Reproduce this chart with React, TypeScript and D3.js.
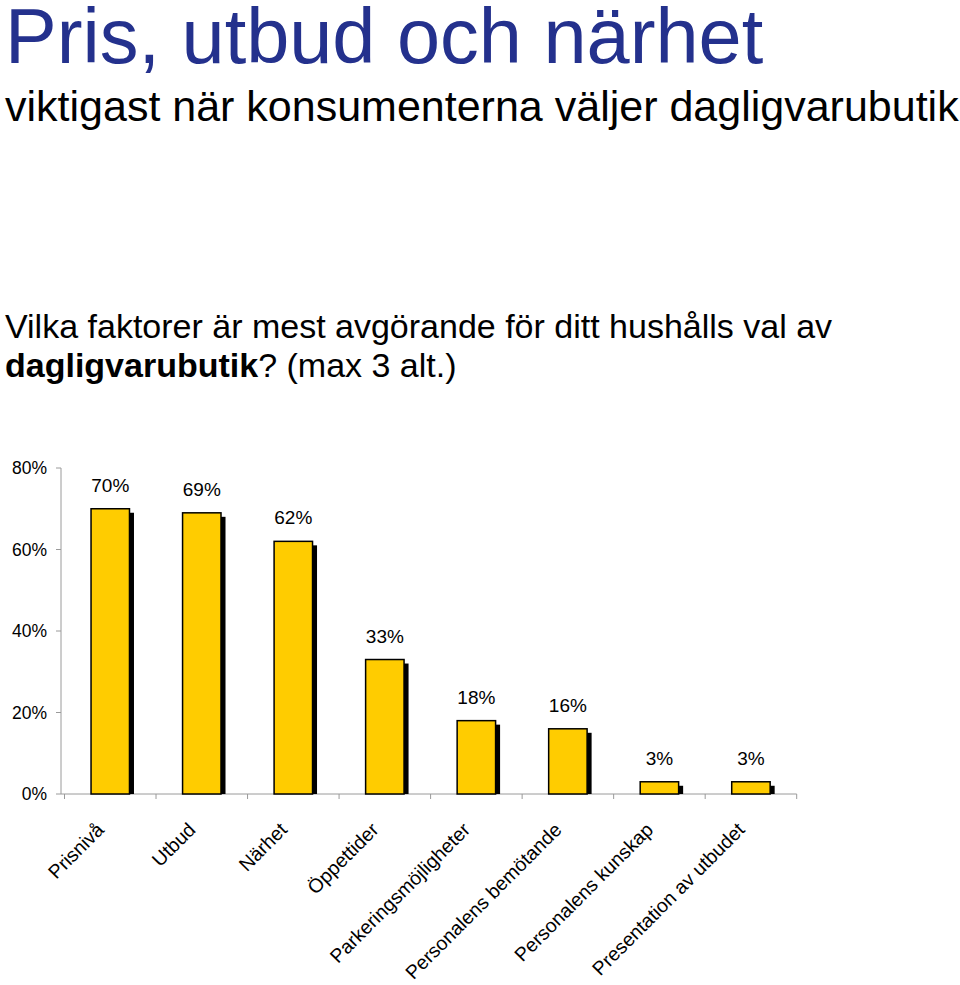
import React from "react";
import * as d3 from "d3";

const categories = [
  "Prisnivå",
  "Utbud",
  "Närhet",
  "Öppettider",
  "Parkeringsmöjligheter",
  "Personalens bemötande",
  "Personalens kunskap",
  "Presentation av utbudet",
];
const values = [70, 69, 62, 33, 18, 16, 3, 3];
const yTicks = [0, 20, 40, 60, 80];

const FONT = "'Liberation Sans', Arial, Helvetica, sans-serif";

export default function App() {
  const W = 960;
  const H = 985;
  const x = d3.scaleBand<string>().domain(categories).range([64.5, 796.7]).padding(0);
  const y = d3.scaleLinear().domain([0, 80]).range([794, 468]);
  const barW = x.step() * 0.42;
  const axisColor = "#9a9a9a";
  const boundaries = d3.range(categories.length + 1).map((i) => x.range()[0] + i * x.step());

  return (
    <svg
      width={W}
      height={H}
      style={{ position: "absolute", left: 0, top: 0, display: "block", background: "#fff" }}
      fontFamily={FONT}
    >
      <text x={5} y={63} fontSize={77.5} fill="#24318d">
        Pris, utbud och närhet
      </text>
      <text x={5} y={121} fontSize={43} fill="#000">
        viktigast när konsumenterna väljer dagligvarubutik
      </text>
      <text x={5} y={338} fontSize={34} fill="#000">
        Vilka faktorer är mest avgörande för ditt hushålls val av
      </text>
      <text x={5} y={377} fontSize={34} fill="#000">
        <tspan fontWeight="bold">dagligvarubutik</tspan>
        <tspan>? (max 3 alt.)</tspan>
      </text>

      {/* y axis */}
      <line x1={61} x2={61} y1={y(80)} y2={y(0)} stroke={axisColor} strokeWidth={1} />
      {yTicks.map((t) => (
        <g key={t}>
          <line x1={56} x2={61} y1={y(t)} y2={y(t)} stroke={axisColor} strokeWidth={1} />
          <text x={47} y={y(t)} dy="0.35em" textAnchor="end" fontSize={17.5} fill="#000">
            {t}%
          </text>
        </g>
      ))}

      {/* x axis */}
      <line x1={61} x2={x.range()[1]} y1={y(0)} y2={y(0)} stroke={axisColor} strokeWidth={1} />
      {boundaries.map((b, i) => (
        <line key={i} x1={b} x2={b} y1={y(0)} y2={y(0) + 5} stroke={axisColor} strokeWidth={1} />
      ))}

      {/* bars */}
      {categories.map((c, i) => {
        const cx = (x(c) as number) + x.bandwidth() / 2;
        const bx = cx - barW / 2;
        const top = y(values[i]);
        return (
          <g key={c}>
            <rect x={bx + 4.5} y={top + 4} width={barW} height={y(0) - top - 4} fill="#000" />
            <rect
              x={bx}
              y={top}
              width={barW}
              height={y(0) - top}
              fill="#ffcc00"
              stroke="#000"
              strokeWidth={1.5}
            />
            <text x={cx} y={top - 17} textAnchor="middle" fontSize={19} fill="#000">
              {values[i]}%
            </text>
            <text
              transform={`translate(${cx - 5},${831}) rotate(-45)`}
              textAnchor="end"
              fontSize={19.5}
              fill="#000"
            >
              {c}
            </text>
          </g>
        );
      })}
    </svg>
  );
}
